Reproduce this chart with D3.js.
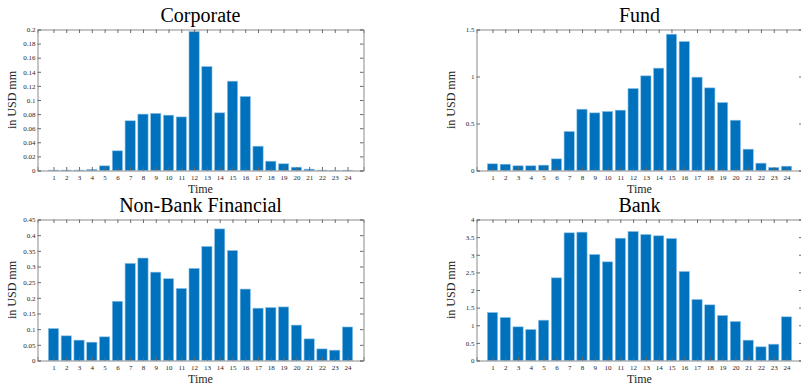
<!DOCTYPE html>
<html>
<head>
<meta charset="utf-8">
<script src="https://cdn.jsdelivr.net/npm/d3@7"></script>
<style>
    body { margin: 0; background: #fff; }
    svg { display: block; font-family: "Liberation Serif", "DejaVu Serif", serif; }
    .tick text { fill: #262626; font-size: 7px; font-family: "Liberation Serif", serif; }
</style>
</head>
<body>
<svg width="801" height="383"></svg>
<script>
const hours = d3.range(1, 25);

const corporate = [0.0005, 0.0005, 0.0005, 0.0015, 0.0066, 0.0279, 0.0705, 0.080, 0.081, 0.0785, 0.076, 0.197,
    0.1475, 0.0818, 0.1267, 0.105, 0.0345, 0.0132, 0.0095, 0.0047, 0.0019, 0.0005, 0.0002, 0.0004];
const fund = [0.071, 0.067, 0.050, 0.050, 0.057, 0.124, 0.415, 0.652, 0.613, 0.628, 0.642, 0.872,
    1.007, 1.089, 1.450, 1.372, 0.993, 0.879, 0.723, 0.535, 0.227, 0.078, 0.032, 0.046];
const nonBank = [0.102, 0.0787, 0.065, 0.0585, 0.0755, 0.189, 0.310, 0.327, 0.282, 0.261, 0.230, 0.294,
    0.364, 0.420, 0.351, 0.228, 0.167, 0.169, 0.171, 0.113, 0.069, 0.037, 0.033, 0.107];
const bank = [1.362, 1.220, 0.955, 0.879, 1.144, 2.345, 3.622, 3.641, 3.007, 2.799, 3.470, 3.660,
    3.574, 3.537, 3.461, 2.525, 1.730, 1.579, 1.277, 1.106, 0.577, 0.388, 0.463, 1.239];

const corporateTicks = d3.range(0, 0.2001, 0.02);
const fundTicks = [0, 0.5, 1, 1.5];
const nonBankTicks = d3.range(0, 0.4501, 0.05);
const bankTicks = d3.range(0, 4.001, 0.5);

const panels = [
    { title: "Corporate", values: corporate, ticks: corporateTicks, x: 37.5, y: 29.5 },
    { title: "Fund", values: fund, ticks: fundTicks, x: 476.5, y: 29.5 },
    { title: "Non-Bank Financial", values: nonBank, ticks: nonBankTicks, x: 37.5, y: 219.5 },
    { title: "Bank", values: bank, ticks: bankTicks, x: 476.5, y: 219.5 }
];

const W = 326, H = 141, tl = 3.5;
const svg = d3.select("svg");
const fmt = v => d3.format("~g")(+v.toFixed(4));

panels.forEach(p => {
    const g = svg.append("g").attr("transform", `translate(${p.x},${p.y})`);
    const x = d3.scaleLinear().domain([-0.25, 25.25]).range([0, W]);
    const y = d3.scaleLinear().domain([0, p.ticks[p.ticks.length - 1]]).range([H, 0]);
    const bw = x(0.8) - x(0);

    g.selectAll("rect").data(p.values).join("rect")
        .attr("x", (d, i) => x(hours[i]) - bw / 2)
        .attr("width", bw)
        .attr("y", d => y(d))
        .attr("height", d => H - y(d))
        .attr("fill", "#0072BD")
        .attr("stroke", "#8cc0e6")
        .attr("stroke-width", 0.6);

    const fr = g.append("g");
    fr.append("g").attr("transform", `translate(0,${H})`)
        .call(d3.axisBottom(x).tickValues(hours).tickSize(-tl).tickPadding(4.5).tickFormat(d3.format("d")));
    fr.append("g")
        .call(d3.axisTop(x).tickValues(hours).tickSize(-tl).tickFormat(""));
    fr.append("g")
        .call(d3.axisLeft(y).tickValues(p.ticks).tickSize(-tl).tickPadding(2).tickFormat(fmt));
    fr.append("g").attr("transform", `translate(${W},0)`)
        .call(d3.axisRight(y).tickValues(p.ticks).tickSize(-tl).tickFormat(""));
    fr.selectAll("g").attr("font-family", null);
    fr.selectAll(".domain").attr("stroke", "#8a8a8a");
    fr.selectAll(".tick line").attr("stroke", "#6a6a6a");

    g.append("text").attr("x", W / 2).attr("y", -8)
        .attr("text-anchor", "middle").attr("font-size", 20).attr("fill", "#000")
        .text(p.title);
    g.append("text").attr("x", W / 2).attr("y", H + 22)
        .attr("text-anchor", "middle").attr("font-size", 12).attr("fill", "#262626")
        .text("Time");
    g.append("text")
        .attr("transform", `translate(-21.5,${H / 2}) rotate(-90)`)
        .attr("text-anchor", "middle").attr("font-size", 12).attr("fill", "#262626")
        .text("in USD mm");
});
</script>
</body>
</html>
